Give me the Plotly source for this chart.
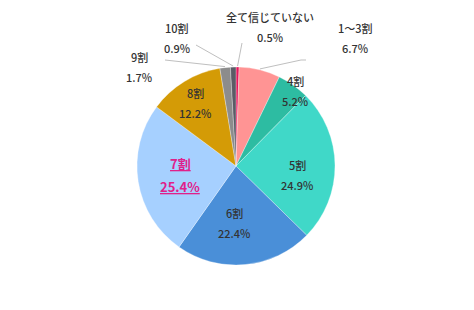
import math
import plotly.graph_objects as go

# ---- data ----
categories = ["全て信じていない", "1～3割", "4割", "5割", "6割", "7割", "8割", "9割", "10割"]
values = [0.5, 6.7, 5.2, 24.9, 22.4, 25.4, 12.2, 1.7, 0.9]
pct_labels = ["0.5%", "6.7%", "5.2%", "24.9%", "22.4%", "25.4%", "12.2%", "1.7%", "0.9%"]

# ---- style ----
colors = ["#E8175D", "#FF9494", "#2DBCA2", "#40D8C8", "#4A8FD8",
          "#A6D0FF", "#D49B06", "#8C8C8C", "#5B5B66"]
W, H = 474, 310
CX, CY, R = 236, 166, 99

# label placement per slice:
# ("in", radial factor, dx px, dy px) or ("out", text x px, text y px, elbow x, elbow y)
placement = [
    ("out", 270, 27, 242, 43),
    ("out", 355, 38, 301, 60),
    ("in", 0.95, 5, 2),
    ("in", 0.62, 0, 9),
    ("in", 0.58, -7, 0),
    ("in", 0.57, 0, 0),
    ("in", 0.75, -2, 0),
    ("out", 139, 67, 165, 60),
    ("out", 177, 38, 196, 45),
]

fig = go.Figure(go.Pie(
    labels=categories, values=values, sort=False, direction="clockwise",
    rotation=0, textinfo="none", hoverinfo="label+percent",
    marker=dict(colors=colors, line=dict(color="rgba(255,255,255,0.6)", width=0.5)),
    domain=dict(x=[(CX - R) / W, (CX + R) / W], y=[1 - (CY + R) / H, 1 - (CY - R) / H]),
    showlegend=False,
))

def px2paper(x, y):
    return x / W, 1 - y / H

total = sum(values)
cum = 0.0
annotations, shapes = [], []
font = dict(family="Noto Sans CJK JP", size=11, color="#333333", weight=500)

def add_pair(x, y, cat, pct, f, gap, underline=False):
    top = "<u>" + cat + "</u>" if underline else cat
    bot = "<u>" + pct + "</u>" if underline else pct
    for t, yy in ((top, y - gap / 2), (bot, y + gap / 2)):
        xp, yp = px2paper(x, yy)
        annotations.append(dict(x=xp, y=yp, xref="paper", yref="paper", text=t,
                                showarrow=False, font=f, xanchor="center", yanchor="middle"))

for i, (cat, v, pl) in enumerate(zip(categories, values, placement)):
    a0 = cum / total * 360
    cum += v
    a1 = cum / total * 360
    mid = math.radians((a0 + a1) / 2)
    if cat == "7割":
        f = dict(family="Noto Sans CJK JP", size=13, color="#E0208A", weight="bold")
        gap, ul = 23, True
    else:
        f, gap, ul = font, 20, False
    if pl[0] == "in":
        rr = pl[1] * R
        x = CX + rr * math.sin(mid) + pl[2]
        y = CY - rr * math.cos(mid) + pl[3]
        add_pair(x, y, cat, pct_labels[i], f, gap, ul)
    else:
        tx, ty, ex, ey = pl[1], pl[2], pl[3], pl[4]
        add_pair(tx, ty, cat, pct_labels[i], f, gap, ul)
        sx = CX + (R + 1) * math.sin(mid)
        sy = CY - (R + 1) * math.cos(mid)
        p0 = px2paper(sx, sy)
        p1 = px2paper(ex, ey)
        shapes.append(dict(type="line", xref="paper", yref="paper",
                           x0=p0[0], y0=p0[1], x1=p1[0], y1=p1[1],
                           line=dict(color="#BFBFBF", width=1)))
        if cat == "1～3割":
            p2 = px2paper(ex + 5, ey)
            shapes.append(dict(type="line", xref="paper", yref="paper",
                               x0=p1[0], y0=p1[1], x1=p2[0], y1=p2[1],
                               line=dict(color="#BFBFBF", width=1)))

fig.update_layout(width=W, height=H, margin=dict(l=0, r=0, t=0, b=0),
                  paper_bgcolor="white", plot_bgcolor="white",
                  annotations=annotations, shapes=shapes,
                  font=dict(family="Noto Sans CJK JP"))
fig.write_html("out.html")
